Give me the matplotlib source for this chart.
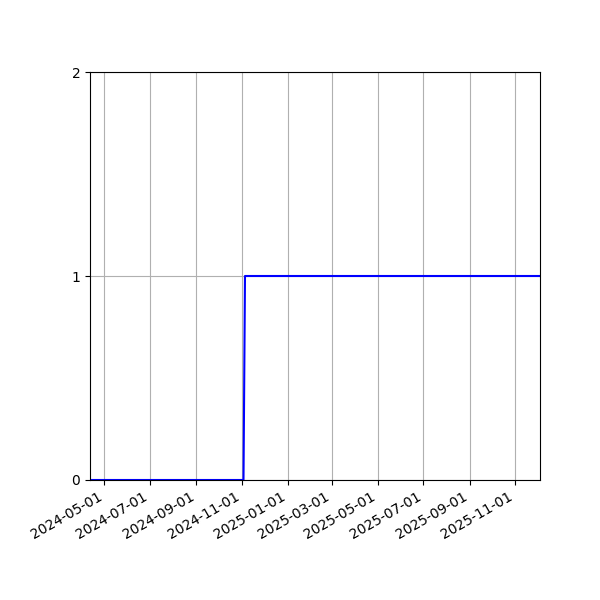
import numpy as np
import pandas as pd
import matplotlib
matplotlib.use("Agg")
import matplotlib.pyplot as plt
import matplotlib.dates as mdates

# step series: off until early November 2024, then on
dates = pd.to_datetime(["2024-04-12", "2024-11-03", "2024-11-05", "2025-12-04"])
values = [0, 0, 1, 1]
yticks = [0, 1, 2]

fig, ax = plt.subplots(figsize=(6, 6), dpi=100)
ax.plot(dates, values, color="blue")
ax.set_xlim(dates[0], dates[-1])
ax.set_ylim(0, 2)
ax.set_yticks(yticks)
ax.xaxis.set_major_locator(mdates.MonthLocator(bymonth=[1, 3, 5, 7, 9, 11]))
ax.xaxis.set_major_formatter(mdates.DateFormatter("%Y-%m-%d"))
ax.grid(True)
fig.autofmt_xdate()
fig.subplots_adjust(left=0.15)
fig.savefig("out.png")
